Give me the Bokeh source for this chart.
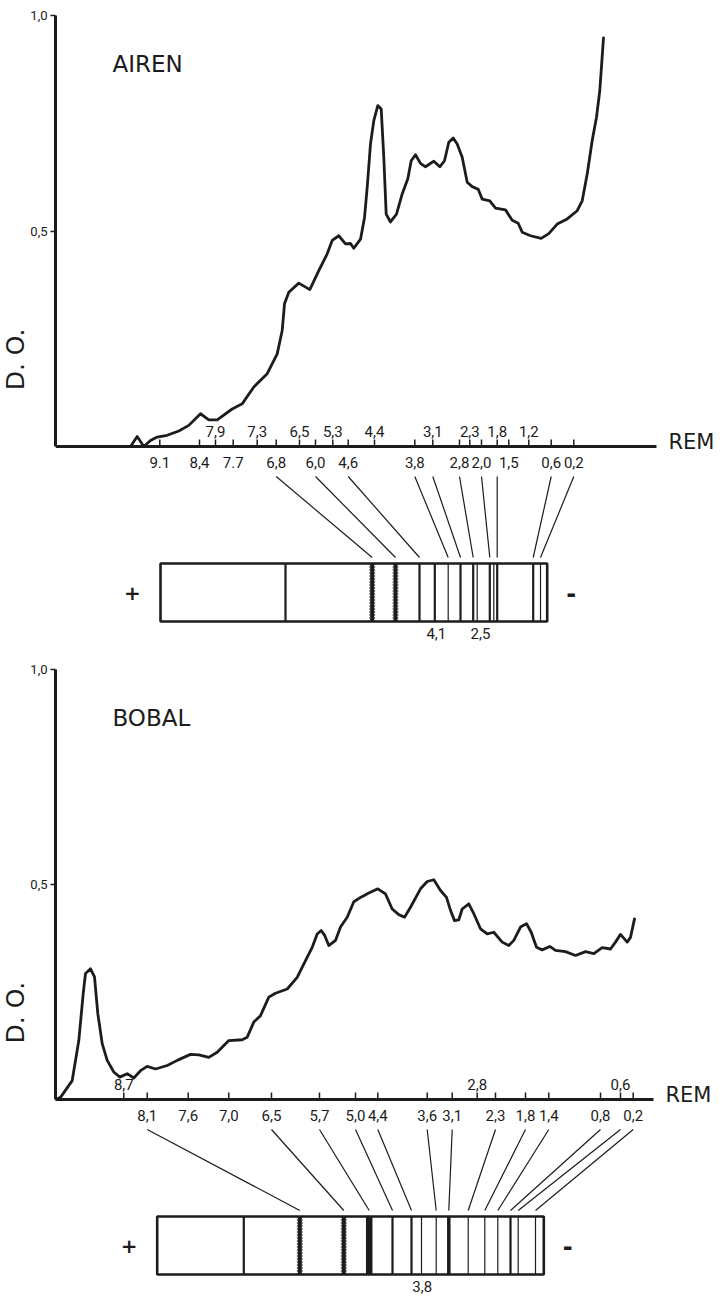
from bokeh.plotting import figure
from bokeh.layouts import column
from bokeh.models import Range1d, FixedTicker, Title
from bokeh.core.properties import value
from bokeh.embed import file_html
from bokeh.resources import INLINE

# ------------------------------------------------------------------ DATA
# distance along the scanned gel (arbitrary units) and optical density (D.O.)
airen_x = [75.0, 81.7, 88.3, 95.0, 101.7, 111.7, 123.3, 133.3, 145.0, 153.3, 161.7, 176.7,
           186.7, 198.3, 211.7, 221.7, 226.7, 229.0, 233.3, 243.3, 254.3, 263.3, 271.7,
           276.7, 283.3, 290.0, 295.0, 298.3, 305.0, 309.0, 311.7, 315.0, 318.3, 322.3,
           325.7, 328.3, 330.7, 335.0, 341.0, 346.7, 352.3, 355.7, 360.0, 365.0, 370.0,
           378.3, 384.3, 389.0, 393.3, 397.7, 401.7, 406.7, 411.7, 416.7, 422.7, 426.7,
           434.3, 440.0, 450.0, 456.7, 462.7, 466.7, 475.0, 485.7, 493.3, 501.7, 511.7,
           521.7, 526.7, 531.7, 536.7, 541.0, 544.3, 548.0]
airen_do = [0.0, 0.023, 0.0, 0.014, 0.022, 0.026, 0.036, 0.049, 0.076, 0.062, 0.062, 0.087,
            0.099, 0.138, 0.169, 0.215, 0.269, 0.331, 0.358, 0.379, 0.364, 0.408, 0.447,
            0.478, 0.489, 0.470, 0.471, 0.460, 0.481, 0.531, 0.601, 0.702, 0.756, 0.791,
            0.783, 0.671, 0.539, 0.521, 0.539, 0.586, 0.621, 0.663, 0.677, 0.657, 0.649,
            0.662, 0.649, 0.663, 0.706, 0.716, 0.702, 0.671, 0.613, 0.603, 0.597, 0.574,
            0.570, 0.553, 0.549, 0.525, 0.518, 0.497, 0.489, 0.483, 0.494, 0.516, 0.528,
            0.547, 0.570, 0.632, 0.710, 0.764, 0.826, 0.948]

airen_tick_x = [104.3, 144.0, 160.0, 177.7, 201.7, 220.7, 244.0, 260.0, 277.3, 292.7, 319.0,
                359.3, 377.3, 404.0, 414.3, 426.0, 441.7, 453.3, 473.3, 495.7, 518.3]
airen_tick_lab = ["9.1", "8,4", "7,9", "7.7", "7,3", "6,8", "6,5", "6,0", "5,3", "4,6", "4,4",
                  "3,8", "3,1", "2,8", "2,3", "2,0", "1,8", "1,5", "1,2", "0,6", "0,2"]
airen_tick_row = ["low", "low", "up", "low", "up", "low", "up", "low", "up", "low", "up",
                  "low", "up", "low", "up", "low", "up", "low", "up", "low", "low"]
airen_strip = [105.0, 491.7]
airen_band_x = [230.0, 316.7, 340.0, 364.0, 379.3, 392.7, 405.0, 417.7, 421.7, 434.3,
                438.3, 441.7, 477.7, 485.0]
airen_band_kind = ["line", "fuzzy", "fuzzy", "bold", "bold", "thin", "bold", "bold", "thin",
                   "bold", "thin", "bold", "bold", "thin"]
airen_link_rem = ["6,8", "6,0", "4,6", "3,8", "3,1", "2,8", "2,0", "1,8", "0,6", "0,2"]
airen_link_band = [316.7, 340.0, 364.0, 392.7, 405.0, 417.7, 434.3, 441.7, 477.7, 485.0]
airen_extra_lab = ["4,1", "2,5"]
airen_extra_x = [380.8, 425.0]

bobal_x = [0.0, 5.0, 16.7, 23.3, 27.7, 30.0, 35.0, 39.0, 42.3, 46.7, 51.7, 58.3, 64.3, 71.7,
           78.3, 85.0, 91.7, 100.0, 111.7, 121.7, 135.0, 143.3, 153.3, 161.7, 173.3, 186.7,
           191.7, 198.3, 205.0, 213.3, 220.0, 231.7, 241.7, 250.0, 256.7, 261.7, 265.7,
           269.3, 273.3, 280.0, 285.0, 291.7, 298.3, 305.0, 313.3, 322.3, 330.0, 336.7,
           343.3, 349.0, 355.0, 365.0, 371.7, 378.3, 385.0, 391.0, 395.0, 399.0, 403.3,
           406.7, 413.3, 418.3, 425.0, 431.7, 438.3, 446.7, 453.3, 458.3, 465.0, 471.0,
           475.7, 481.0, 486.7, 494.3, 500.0, 510.0, 520.0, 530.0, 538.3, 546.7, 555.0,
           560.0, 565.0, 571.7, 575.0, 579.0]
bobal_do = [0.0, 0.005, 0.044, 0.137, 0.246, 0.293, 0.304, 0.285, 0.200, 0.130, 0.091, 0.064,
            0.052, 0.060, 0.050, 0.067, 0.077, 0.071, 0.079, 0.091, 0.105, 0.104, 0.098,
            0.110, 0.137, 0.139, 0.145, 0.180, 0.195, 0.238, 0.247, 0.257, 0.284, 0.323,
            0.354, 0.385, 0.393, 0.381, 0.358, 0.370, 0.401, 0.424, 0.460, 0.470, 0.480,
            0.490, 0.478, 0.443, 0.430, 0.424, 0.447, 0.490, 0.507, 0.511, 0.486, 0.470,
            0.440, 0.416, 0.418, 0.443, 0.455, 0.432, 0.397, 0.385, 0.389, 0.366, 0.358,
            0.370, 0.401, 0.409, 0.389, 0.354, 0.348, 0.356, 0.347, 0.344, 0.335, 0.344,
            0.339, 0.353, 0.350, 0.366, 0.384, 0.366, 0.377, 0.420]

bobal_tick_x = [68.3, 91.7, 132.7, 173.3, 216.0, 264.0, 300.0, 322.3, 371.7, 396.7, 421.7,
                440.0, 470.0, 493.3, 545.0, 565.0, 577.7]
bobal_tick_lab = ["8,7", "8,1", "7,6", "7,0", "6,5", "5,7", "5,0", "4,4", "3,6", "3,1", "2,8",
                  "2,3", "1,8", "1,4", "0,8", "0,6", "0,2"]
bobal_tick_row = ["up", "low", "low", "low", "low", "low", "low", "low", "low", "low", "up",
                  "low", "low", "low", "low", "up", "low"]
bobal_strip = [101.7, 488.3]
bobal_band_x = [188.3, 244.3, 288.3, 313.7, 337.0, 356.0, 366.0, 380.7, 393.3, 412.7,
                429.3, 442.3, 455.0, 462.7, 480.0]
bobal_band_kind = ["line", "fuzzy", "fuzzy", "heavy", "bold", "bold", "thin", "thin", "heavy2",
                   "thin", "thin", "thin", "bold", "thin", "thin"]
bobal_link_rem = ["8,1", "6,5", "5,7", "5,0", "4,4", "3,6", "3,1", "2,3", "1,8", "1,4",
                  "0,8", "0,6", "0,2"]
bobal_link_band = [244.3, 288.3, 313.7, 337.0, 356.0, 380.7, 393.3, 412.7, 429.3, 442.3,
                   455.0, 462.7, 480.0]
bobal_extra_lab = ["3,8"]
bobal_extra_x = [366.7]

# ------------------------------------------------------------------ STYLE / LAYOUT
INK = "#1c1c1c"
FIG_W = 722
BORDER_L = 55
BORDER_T = 5
NUM_FONT = value("Roboto")
BAND_W = {"line": 2.2, "fuzzy": 4.0, "bold": 2.2, "thin": 1.2, "heavy": 6.5, "heavy2": 3.5}
DO_LABEL_LEN = 60   # approx. rendered length of the rotated "D. O." title, px


def make_panel(title, height, y1_px, y0_px, xs, ys, tick_x, tick_lab, tick_row, strip,
               band_x, band_kind, link_rem, link_band, extra_lab, extra_x, axis_end):
    px = 1.0 / (y0_px - y1_px)       # D.O. units per pixel
    y_end = 1 + (y1_px - BORDER_T) * px
    y_start = -(height - y0_px) * px
    frame_w = FIG_W - BORDER_L
    p = figure(width=FIG_W, height=height, output_backend="svg", toolbar_location=None,
               x_range=Range1d(0, frame_w), y_range=Range1d(y_start, y_end),
               x_axis_location=None, min_border_left=BORDER_L, min_border_right=0,
               min_border_top=BORDER_T, min_border_bottom=0)
    p.grid.visible = False
    p.outline_line_color = None
    p.background_fill_color = "white"

    ax = p.yaxis[0]
    ax.ticker = FixedTicker(ticks=[0.5, 1.0])
    ax.major_label_overrides = {0.5: "0,5", 1.0: "1,0"}
    ax.bounds = (0, 1)
    ax.axis_line_width = 3
    ax.axis_line_color = INK
    ax.major_tick_line_color = INK
    ax.major_tick_line_width = 1.5
    ax.major_tick_out = 5
    ax.major_tick_in = 0
    ax.minor_tick_out = 0
    ax.minor_tick_in = 0
    ax.major_label_standoff = 3
    ax.major_label_text_font = "Roboto"
    ax.major_label_text_font_size = "13px"
    ax.major_label_text_color = INK

    # "D. O." axis title, placed low on the scale (centred near D.O. = 0.2)
    target = y0_px - 0.2 * (y0_px - y1_px)
    start_from_bottom = height - (target + DO_LABEL_LEN / 2)
    p.add_layout(Title(text="D. O.", align="left", offset=start_from_bottom, standoff=-5,
                       text_font="DejaVu Sans", text_font_size="25px",
                       text_font_style="normal", text_color=INK), "left")

    # x axis (REM) drawn at D.O. = 0
    p.segment(x0=[0], y0=[0], x1=[axis_end], y1=[0], line_width=3, line_color=INK)
    p.text(x=[axis_end + 12], y=[0], text=["REM"], text_font=value("DejaVu Sans"),
           text_font_size="21px", text_align="left", text_baseline="middle",
           y_offset=-5, text_color=INK)
    p.segment(x0=tick_x, y0=[0] * len(tick_x), x1=tick_x, y1=[7 * px] * len(tick_x),
              line_width=1.5, line_color=INK)
    up_x = [x for x, r in zip(tick_x, tick_row) if r == "up"]
    up_t = [t for t, r in zip(tick_lab, tick_row) if r == "up"]
    lo_x = [x for x, r in zip(tick_x, tick_row) if r == "low"]
    lo_t = [t for t, r in zip(tick_lab, tick_row) if r == "low"]
    p.text(x=up_x, y=[0] * len(up_x), text=up_t, text_font=NUM_FONT, text_font_size="15px",
           text_align="center", text_baseline="middle", y_offset=-15, text_color=INK)
    p.text(x=lo_x, y=[0] * len(lo_x), text=lo_t, text_font=NUM_FONT, text_font_size="15px",
           text_align="center", text_baseline="middle", y_offset=16, text_color=INK)

    # densitometric trace
    p.line(xs, ys, line_width=2.8, line_color=INK, line_join="round", line_cap="round")

    # title
    p.text(x=[57], y=[1 - 48 * px], text=[title], text_font=value("DejaVu Sans"),
           text_font_size="23px", text_align="left", text_baseline="middle", text_color=INK)

    # gel strip
    s_top = -117 * px
    s_bot = -175 * px
    p.quad(left=[strip[0]], right=[strip[1]], top=[s_top], bottom=[s_bot],
           fill_color="white", line_color=INK, line_width=2.6)
    for kind in BAND_W:
        bx = [x for x, k in zip(band_x, band_kind) if k == kind]
        if not bx:
            continue
        p.segment(x0=bx, y0=[s_top] * len(bx), x1=bx, y1=[s_bot] * len(bx),
                  line_width=BAND_W[kind], line_color=INK)
        if kind == "fuzzy":
            for dx in (-2.4, 2.4):
                p.segment(x0=[x + dx for x in bx], y0=[s_top] * len(bx),
                          x1=[x + dx for x in bx], y1=[s_bot] * len(bx),
                          line_width=1.2, line_color=INK, line_dash="1 2")
    # + / - signs
    mid = (s_top + s_bot) / 2
    p.text(x=[strip[0] - 28], y=[mid], text=["+"], text_font=value("DejaVu Sans"),
           text_font_style="bold", text_font_size="20px", text_align="center",
           text_baseline="middle", text_color=INK)
    p.text(x=[strip[1] + 24], y=[mid], text=["-"], text_font=value("DejaVu Sans"),
           text_font_style="bold", text_font_size="24px", text_align="center",
           text_baseline="middle", text_color=INK)
    # connectors from trace ticks to gel bands
    lk_x0 = [tick_x[tick_lab.index(r)] for r in link_rem]
    p.segment(x0=lk_x0, y0=[-30 * px] * len(lk_x0), x1=link_band,
              y1=[-111 * px] * len(lk_x0), line_width=1.2, line_color=INK)
    # labels under the strip
    p.text(x=extra_x, y=[s_bot] * len(extra_x), text=extra_lab, text_font=NUM_FONT,
           text_font_size="15px", text_align="center", text_baseline="middle",
           y_offset=12, text_color=INK)
    return p


p1 = make_panel("AIREN", 648, 15.0, 446.0, airen_x, airen_do, airen_tick_x,
                airen_tick_lab, airen_tick_row, airen_strip, airen_band_x,
                airen_band_kind, airen_link_rem, airen_link_band, airen_extra_lab,
                airen_extra_x, 601)
p2 = make_panel("BOBAL", 649, 21.0, 451.0, bobal_x, bobal_do, bobal_tick_x,
                bobal_tick_lab, bobal_tick_row, bobal_strip, bobal_band_x,
                bobal_band_kind, bobal_link_rem, bobal_link_band, bobal_extra_lab,
                bobal_extra_x, 598)

layout = column(p1, p2, spacing=0)
open("out.html", "w").write(file_html(layout, INLINE))
